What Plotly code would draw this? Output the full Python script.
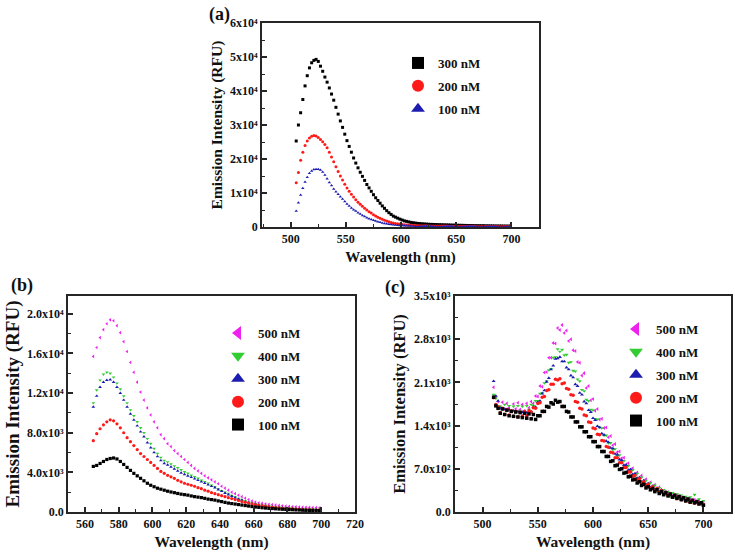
import plotly.graph_objects as go

# ---- data (emission intensity, RFU) ----

# panel (a): 505..699 nm, 2 nm step
wl_a = list(range(505, 700, 2))
a_300 = [25300, 30000, 33600, 37500, 41500, 44500, 46800, 48300, 49000, 49300,
         48700, 47300, 45800, 44100, 42600, 40900, 39100, 37300, 35200, 33200,
         31200, 29300, 27300, 25400, 23700, 22000, 20300, 18800, 17400, 16100,
         14900, 13700, 12500, 11500, 10500, 9500, 8600, 7800, 7000, 6200,
         5500, 4800, 4200, 3700, 3200, 2900, 2600, 2300, 2050, 1800,
         1650, 1500, 1350, 1250, 1150, 1050, 1000, 950, 900, 850,
         800, 780, 750, 720, 700, 680, 660, 640, 620, 600,
         580, 560, 540, 520, 500, 490, 470, 460, 450, 430,
         420, 400, 390, 380, 370, 360, 350, 340, 330, 320,
         310, 300, 300, 290, 280, 270, 270, 260]
a_200 = [13000, 16000, 19600, 22000, 24000, 25300, 26200, 26700, 26900, 26800,
         26300, 25700, 25100, 24300, 23300, 22000, 20600, 19200, 17700, 16300,
         15000, 13800, 12600, 11500, 10500, 9600, 8800, 8000, 7300, 6700,
         6100, 5500, 5000, 4500, 4100, 3600, 3200, 2900, 2550, 2250,
         2000, 1750, 1550, 1350, 1200, 1050, 950, 850, 750, 680,
         620, 560, 520, 480, 450, 420, 400, 380, 360, 350,
         340, 330, 320, 310, 300, 290, 280, 270, 260, 250,
         250, 240, 230, 230, 220, 220, 210, 210, 200, 200,
         190, 190, 180, 180, 180, 170, 170, 170, 160, 160,
         160, 150, 150, 150, 150, 140, 140, 140]
a_100 = [4700, 7100, 9400, 11400, 13200, 14600, 15800, 16500, 16900, 17000,
         17000, 16800, 16200, 15300, 14200, 13100, 12200, 11200, 10400, 9600,
         8900, 8200, 7500, 6800, 6200, 5600, 5100, 4700, 4200, 3800,
         3400, 3100, 2700, 2400, 2200, 1950, 1750, 1550, 1380, 1200,
         1050, 930, 820, 720, 640, 570, 510, 460, 410, 370,
         340, 310, 290, 270, 250, 240, 230, 220, 210, 200,
         200, 190, 190, 180, 180, 170, 170, 160, 160, 160,
         150, 150, 150, 140, 140, 140, 130, 130, 130, 130,
         120, 120, 120, 120, 110, 110, 110, 110, 100, 100,
         100, 100, 100, 100, 90, 90, 90, 90]

# panel (b): 565..699 nm, 2 nm step
wl_b = list(range(565, 700, 2))
b_500 = [15700, 16600, 17600, 18400, 19000, 19400, 19300, 18800, 18100, 17200,
         16200, 15100, 14100, 13100, 12100, 11300, 10500, 9800, 9100, 8500,
         7800, 7400, 6900, 6600, 6200, 5900, 5600, 5300, 5000, 4700,
         4400, 4150, 3900, 3650, 3450, 3250, 3050, 2850, 2600, 2400,
         2200, 2000, 1850, 1700, 1550, 1400, 1250, 1100, 1000, 930,
         880, 820, 770, 740, 700, 660, 620, 590, 560, 540,
         520, 500, 490, 470, 460, 450, 440, 430]
b_400 = [11000, 12300, 13300, 13900, 14100, 14000, 13600, 13000, 12400, 11700,
         11000, 10300, 9700, 9100, 8500, 8000, 7400, 6900, 6400, 5900,
         5500, 5200, 5050, 4850, 4650, 4450, 4250, 4050, 3900, 3700,
         3550, 3400, 3200, 3050, 2900, 2700, 2550, 2350, 2150, 2000,
         1850, 1650, 1500, 1350, 1250, 1100, 1000, 900, 820, 750,
         690, 640, 590, 540, 500, 470, 440, 410, 390, 370,
         350, 330, 320, 310, 300, 290, 280, 280]
b_300 = [10600, 11700, 12600, 13100, 13300, 13350, 13100, 12600, 12000, 11300,
         10600, 9900, 9300, 8700, 8100, 7600, 7000, 6500, 6000, 5600,
         5200, 4900, 4750, 4550, 4350, 4150, 3950, 3800, 3650, 3500,
         3350, 3200, 3050, 2900, 2750, 2600, 2450, 2250, 2100, 1900,
         1750, 1600, 1450, 1300, 1200, 1050, 950, 860, 780, 710,
         650, 600, 550, 500, 470, 440, 410, 380, 360, 340,
         320, 300, 290, 280, 270, 260, 250, 250]
b_200 = [7200, 7900, 8400, 8800, 9100, 9300, 9200, 8900, 8500, 8000,
         7500, 7100, 6700, 6300, 5900, 5600, 5300, 5000, 4700, 4400,
         4100, 3900, 3700, 3550, 3400, 3200, 3050, 2900, 2800, 2700,
         2600, 2450, 2350, 2200, 2100, 1950, 1850, 1750, 1650, 1550,
         1450, 1350, 1250, 1150, 1050, 980, 900, 820, 750, 680,
         620, 570, 520, 480, 440, 410, 380, 350, 330, 310,
         290, 270, 250, 240, 220, 210, 200, 190]
b_100 = [4600, 4700, 4900, 5100, 5300, 5400, 5450, 5350, 5100, 4800,
         4500, 4200, 3900, 3650, 3400, 3150, 2900, 2700, 2550, 2400,
         2300, 2200, 2100, 2020, 1950, 1870, 1800, 1750, 1700, 1620,
         1550, 1500, 1450, 1380, 1300, 1250, 1200, 1120, 1050, 970,
         900, 850, 800, 750, 700, 650, 600, 550, 500, 470,
         430, 400, 370, 350, 320, 300, 280, 260, 240, 230,
         210, 200, 180, 170, 160, 150, 140, 130]

# panel (c): 510..700 nm, 2 nm step (noisy readings)
wl_c = list(range(510, 701, 2))
c_500 = [2020, 1860, 1790, 1700, 1780, 1660, 1760, 1690, 1640, 1750,
         1670, 1770, 1660, 1740, 1640, 1760, 1690, 1790, 1760, 1880,
         1870, 2040, 2030, 2260, 2270, 2500, 2500, 2740, 2730, 2980,
         2950, 3030, 2900, 2940, 2770, 2800, 2620, 2610, 2430, 2420,
         2210, 2250, 2010, 2040, 1810, 1830, 1640, 1670, 1500, 1510,
         1360, 1370, 1210, 1230, 1080, 1100, 970, 980, 870, 880,
         770, 790, 690, 710, 620, 640, 550, 590, 500, 530,
         450, 480, 410, 440, 360, 400, 330, 350, 300, 320,
         270, 300, 240, 270, 220, 250, 200, 230, 180, 210,
         170, 200, 150, 180, 130, 150]
c_400 = [1900, 1840, 1720, 1710, 1660, 1740, 1640, 1720, 1630, 1710,
         1620, 1720, 1640, 1710, 1620, 1720, 1660, 1740, 1720, 1800,
         1800, 1920, 1930, 2090, 2120, 2300, 2320, 2500, 2510, 2640,
         2600, 2630, 2540, 2550, 2420, 2430, 2290, 2280, 2150, 2120,
         1980, 1960, 1820, 1800, 1660, 1650, 1510, 1500, 1370, 1360,
         1240, 1240, 1120, 1120, 1010, 1020, 910, 920, 820, 830,
         730, 750, 660, 680, 590, 620, 530, 560, 470, 510,
         430, 470, 390, 430, 350, 390, 320, 360, 290, 330,
         260, 310, 240, 290, 220, 270, 200, 250, 180, 240,
         170, 280, 160, 210, 150, 180]
c_300 = [2120, 1880, 1800, 1680, 1670, 1670, 1650, 1660, 1640, 1640,
         1630, 1630, 1620, 1620, 1610, 1610, 1630, 1630, 1700, 1700,
         1780, 1800, 1920, 1970, 2110, 2170, 2310, 2370, 2480, 2490,
         2510, 2440, 2440, 2340, 2310, 2210, 2180, 2070, 2040, 1930,
         1900, 1790, 1760, 1650, 1620, 1520, 1490, 1390, 1370, 1270,
         1250, 1150, 1130, 1040, 1030, 940, 930, 850, 840, 760,
         760, 680, 690, 610, 620, 550, 560, 490, 510, 450,
         460, 400, 420, 370, 390, 330, 360, 300, 330, 270,
         300, 250, 280, 230, 260, 210, 240, 180, 210, 160,
         180, 150, 170, 140, 150, 120]
c_200 = [1850, 1740, 1700, 1610, 1680, 1580, 1660, 1570, 1640, 1550,
         1630, 1540, 1620, 1550, 1630, 1560, 1640, 1620, 1690, 1680,
         1760, 1770, 1860, 1870, 1970, 1980, 2070, 2070, 2150, 2140,
         2160, 2080, 2090, 2000, 1990, 1900, 1890, 1790, 1780, 1680,
         1670, 1570, 1560, 1460, 1450, 1360, 1350, 1260, 1250, 1160,
         1150, 1060, 1050, 970, 960, 880, 880, 800, 800, 720,
         720, 650, 650, 580, 590, 520, 540, 470, 490, 430,
         450, 390, 410, 350, 380, 320, 350, 290, 320, 270,
         290, 240, 270, 220, 250, 200, 230, 180, 210, 160,
         190, 140, 170, 130, 150, 120]
c_100 = [1860, 1720, 1680, 1600, 1670, 1580, 1650, 1560, 1630, 1550,
         1620, 1540, 1610, 1530, 1600, 1520, 1590, 1510, 1580, 1500,
         1560, 1560, 1630, 1630, 1710, 1700, 1770, 1750, 1810, 1780,
         1790, 1710, 1710, 1630, 1620, 1540, 1540, 1460, 1460, 1380,
         1380, 1300, 1300, 1220, 1220, 1140, 1140, 1060, 1060, 980,
         980, 900, 900, 820, 830, 750, 760, 690, 700, 630,
         640, 570, 580, 520, 530, 470, 490, 430, 450, 390,
         410, 360, 380, 330, 360, 300, 330, 280, 310, 260,
         290, 240, 270, 220, 250, 200, 230, 180, 210, 160,
         190, 150, 170, 130, 150, 110]

# tick labels
ticks_a_y = [0, 10000, 20000, 30000, 40000, 50000, 60000]
labels_a_y = ['0', '1x10⁴', '2x10⁴', '3x10⁴', '4x10⁴', '5x10⁴', '6x10⁴']
ticks_b_y = [0, 4000, 8000, 12000, 16000, 20000]
labels_b_y = ['0.0', '4.0x10³', '8.0x10³', '1.2x10⁴', '1.6x10⁴', '2.0x10⁴']
ticks_c_y = [0, 700, 1400, 2100, 2800, 3500]
labels_c_y = ['0.0', '7.0x10²', '1.4x10³', '2.1x10³', '2.8x10³', '3.5x10³']

FONT = 'Liberation Serif'
AXCOL = '#262626'

COLORS = {'500': '#ee22ee', '400': '#33cc33', '300': '#1c1cb0',
          '200': '#ff1a1a', '100': '#000000'}
SYMBOLS = {'500': 'triangle-left', '400': 'triangle-down', '300': 'triangle-up',
           '200': 'circle', '100': 'square'}

panel_a = [('300', a_300, 'square', '#000000'),
           ('200', a_200, 'circle', '#ff1a1a'),
           ('100', a_100, 'triangle-up', '#1c1cb0')]
panel_b = [(k, v, SYMBOLS[k], COLORS[k]) for k, v in
           [('500', b_500), ('400', b_400), ('300', b_300), ('200', b_200), ('100', b_100)]]
panel_c = [(k, v, SYMBOLS[k], COLORS[k]) for k, v in
           [('500', c_500), ('400', c_400), ('300', c_300), ('200', c_200), ('100', c_100)]]

W, H = 735, 557


def _px(x0, x1, y0, y1):
    # pixel box -> paper domains
    return [x0 / W, x1 / W], [1 - y1 / H, 1 - y0 / H]


def _axis(domain, anchor, rng, tickvals, ticktext, minor_dtick, title, title_size, standoff):
    return dict(
        domain=domain, anchor=anchor, range=rng,
        tickmode='array', tickvals=tickvals, ticktext=ticktext,
        ticks='inside', ticklen=5, tickwidth=1.5, tickcolor=AXCOL,
        minor=dict(ticks='inside', ticklen=3, tickwidth=1.2, tickcolor=AXCOL,
                   dtick=minor_dtick, tick0=0),
        showline=True, linecolor=AXCOL, linewidth=1.8, mirror=True,
        showgrid=False, zeroline=False,
        tickfont=dict(family=FONT, size=12, color='#111', weight='bold'),
        title=dict(text=title, standoff=standoff,
                   font=dict(family=FONT, size=title_size, color='#111', weight='bold')),
    )


fig = go.Figure()

panels = [('x', 'y', 'legend', panel_a, wl_a, 3),
          ('x2', 'y2', 'legend2', panel_b, wl_b, 3.2),
          ('x3', 'y3', 'legend3', panel_c, wl_c, 3.5)]
for xa, ya, lg, series, wl, msize in panels:
    for name, vals, sym, col in series:
        assert len(vals) == len(wl), (name, len(vals), len(wl))
        fig.add_trace(go.Scatter(
            x=wl, y=vals, mode='markers', xaxis=xa, yaxis=ya,
            name='%s nM' % name, legend=lg, legendgroup=lg + name,
            marker=dict(symbol=sym, size=msize, color=col, line=dict(width=0)),
        ))

xa_d, ya_d = _px(262, 539, 23, 227)
xb_d, yb_d = _px(68, 355, 296, 512)
xc_d, yc_d = _px(455, 731, 296, 512)

fig.update_layout(
    width=W, height=H, template='none',
    paper_bgcolor='white', plot_bgcolor='white',
    margin=dict(l=0, r=0, t=0, b=0),
    xaxis=_axis(xa_d, 'y', [474, 725], [500, 550, 600, 650, 700],
                ['500', '550', '600', '650', '700'], 25, 'Wavelength (nm)', 15, 6),
    yaxis=_axis(ya_d, 'x', [0, 60000], ticks_a_y, labels_a_y, 5000,
                'Emission Intensity (RFU)', 15.5, 4),
    xaxis2=_axis(xb_d, 'y2', [550, 720], list(range(560, 721, 20)),
                 [str(v) for v in range(560, 721, 20)], 10, 'Wavelength (nm)', 15.5, 6),
    yaxis2=_axis(yb_d, 'x2', [0, 21800], ticks_b_y, labels_b_y, 2000,
                 'Emission Intensity (RFU)', 19, 2),
    xaxis3=_axis(xc_d, 'y3', [475, 725], [500, 550, 600, 650, 700],
                 ['500', '550', '600', '650', '700'], 25, 'Wavelength (nm)', 15.5, 6),
    yaxis3=_axis(yc_d, 'x3', [0, 3500], ticks_c_y, labels_c_y, 350,
                 'Emission Intensity (RFU)', 16.5, 4),
    showlegend=True,
)

leg_common = dict(bgcolor='rgba(0,0,0,0)', borderwidth=0, itemsizing='constant',
                  tracegroupgap=3,
                  font=dict(family=FONT, size=13, color='#111', weight='bold'),
                  xanchor='left', yanchor='top', itemclick=False)
fig.update_layout(
    legend=dict(x=398 / W, y=1 - 48 / H, **leg_common),
    legend2=dict(x=218 / W, y=1 - 318 / H, **leg_common),
    legend3=dict(x=616 / W, y=1 - 314 / H, **leg_common),
)

# panel labels
for txt, x, y in [('(a)', 207, 14), ('(b)', 9, 285), ('(c)', 383, 287)]:
    fig.add_annotation(text=txt, x=x / W, y=1 - y / H, xref='paper', yref='paper',
                       xanchor='left', yanchor='middle', showarrow=False,
                       font=dict(family=FONT, size=18, color='#111', weight='bold'))

# drop the default body margin so the figure sits at the window's top-left corner
fig.write_html('out.html', config={'displayModeBar': False},
               post_script="document.body.style.margin='0px';")
